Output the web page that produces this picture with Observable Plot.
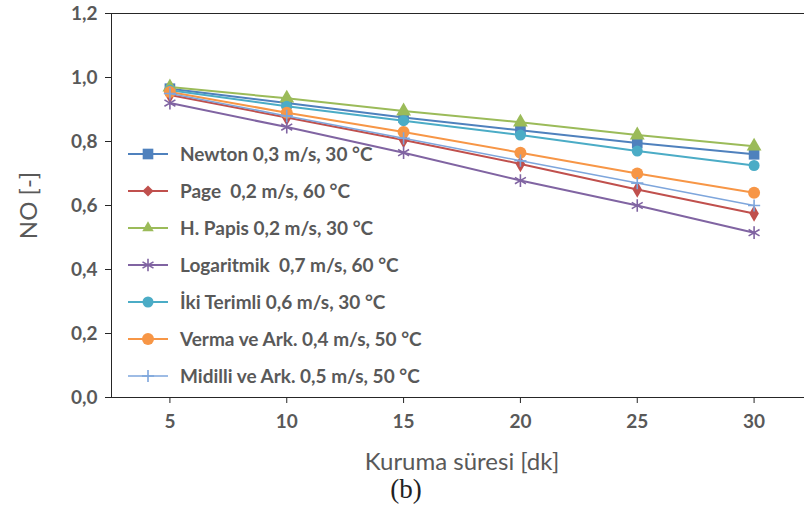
<!DOCTYPE html>
<html>
<head>
<meta charset="utf-8">
<script src="https://cdn.jsdelivr.net/npm/d3@7"></script>
<script src="https://cdn.jsdelivr.net/npm/@observablehq/plot@0.6"></script>
<style>
  body { margin: 0; background: #fff; overflow: hidden; }
  #wrap { position: relative; width: 804px; height: 518px; overflow: hidden; font-family: Lato, "Open Sans", sans-serif; }
  #legend { position: absolute; left: 126px; top: 135px; }
  .row { display: flex; align-items: center; height: 37px; }
  .row svg { display: block; margin-right: 10px; }
  .row span { white-space: pre; font-weight: bold; font-size: 19px; color: #595959; }
  #caption { position: absolute; left: 0; top: 474px; width: 812px; text-align: center;
             font-family: "Liberation Serif", "DejaVu Serif", serif; font-size: 27px; color: #222; }
</style>
</head>
<body>
<div id="wrap">
  <div id="chart"></div>
  <div id="legend"></div>
  <div id="caption">(b)</div>
</div>
<script>
// Drying time (min) and dimensionless moisture ratio for each model
const times = [5, 10, 15, 20, 25, 30];
const yTicks = [0, 0.2, 0.4, 0.6, 0.8, 1.0, 1.2];

const seriesNames = [
  "Newton 0,3 m/s, 30 °C",
  "Page  0,2 m/s, 60 °C",
  "H. Papis 0,2 m/s, 30 °C",
  "Logaritmik  0,7 m/s, 60 °C",
  "İki Terimli 0,6 m/s, 30 °C",
  "Verma ve Ark. 0,4 m/s, 50 °C",
  "Midilli ve Ark. 0,5 m/s, 50 °C"
];
const newton     = [0.965, 0.92, 0.875, 0.835, 0.795, 0.76];
const page       = [0.945, 0.875, 0.805, 0.73, 0.65, 0.575];
const hPapis     = [0.97, 0.935, 0.895, 0.86, 0.82, 0.785];
const logaritmik = [0.92, 0.845, 0.765, 0.678, 0.60, 0.515];
const ikiTerimli = [0.96, 0.91, 0.865, 0.82, 0.77, 0.725];
const verma      = [0.955, 0.89, 0.83, 0.765, 0.70, 0.64];
const midilli    = [0.95, 0.88, 0.81, 0.74, 0.67, 0.60];

const seriesValues = [newton, page, hPapis, logaritmik, ikiTerimli, verma, midilli];
const colors  = ["#4F81BD", "#C0504D", "#9BBB59", "#8064A2", "#4BACC6", "#F79646", "#7EA6DC"];
const symbols = ["square", "diamond", "triangle", "asterisk", "circle", "circle", "plus"];
const radii   = [6, 5, 5.5, 6, 5.5, 6, 4];
const lineWidths = [2, 2, 2, 2, 2, 2, 1.5];
const strokeSymbols = new Set(["asterisk", "plus"]);

const fmt = d => d.toFixed(1).replace(".", ",");

const marks = [
  Plot.ruleY([0], {stroke: "#262626"}),
  Plot.ruleY([1.2], {stroke: "#262626"}),
  Plot.ruleX([2.5], {stroke: "#262626"}),
  Plot.axisY({ticks: yTicks, tickSize: 6, tickPadding: 8, tickFormat: fmt, label: null,
              fontWeight: "bold", fontSize: 19, stroke: "#262626"}),
  Plot.axisY({ticks: [], label: "NO [-]", labelAnchor: "center", labelArrow: "none", labelOffset: 92,
              fontSize: 24, fill: "#595959"}),
  Plot.axisX({ticks: times, tickSize: 6, tickPadding: 11, label: null,
              fontWeight: "bold", fontSize: 19, stroke: "#262626"}),
  Plot.axisX({ticks: [], label: "Kuruma süresi [dk]", labelAnchor: "center", labelArrow: "none", labelOffset: 72,
              fontSize: 24, fill: "#595959"})
];

seriesNames.forEach((name, i) => {
  const rows = times.map((t, j) => ({t, v: seriesValues[i][j]}));
  marks.push(Plot.line(rows, {x: "t", y: "v", stroke: colors[i], strokeWidth: lineWidths[i]}));
  const isStroke = strokeSymbols.has(symbols[i]);
  marks.push(Plot.dot(rows, {
    x: "t", y: "v", symbol: () => symbols[i], r: radii[i],
    fill: isStroke ? "none" : colors[i],
    stroke: isStroke ? colors[i] : "none",
    strokeWidth: isStroke ? 1.6 : 0
  }));
});

const chart = Plot.plot({
  width: 804,
  height: 470,
  marginTop: 13,
  marginLeft: 111,
  marginRight: -8,
  marginBottom: 73,
  style: {fontFamily: "Lato, 'Open Sans', sans-serif", color: "#595959", background: "#fff", overflow: "visible"},
  x: {domain: [2.5, 32.5]},
  y: {domain: [0, 1.2]},
  symbol: {type: "identity"},
  marks
});
document.getElementById("chart").appendChild(chart);

// Legend drawn inside the plot area
const legend = d3.select("#legend");
const symbolTypes = {
  square: d3.symbolSquare, diamond: d3.symbolDiamond2, triangle: d3.symbolTriangle2,
  asterisk: d3.symbolAsterisk, circle: d3.symbolCircle, plus: d3.symbolPlus
};
seriesNames.forEach((name, i) => {
  const row = legend.append("div").attr("class", "row");
  const svg = row.append("svg").attr("width", 44).attr("height", 20);
  svg.append("line").attr("x1", 2).attr("x2", 42).attr("y1", 10).attr("y2", 10)
    .attr("stroke", colors[i]).attr("stroke-width", lineWidths[i]);
  const isStroke = strokeSymbols.has(symbols[i]);
  svg.append("path")
    .attr("transform", "translate(22,10)")
    .attr("d", d3.symbol(symbolTypes[symbols[i]], Math.PI * radii[i] * radii[i])())
    .attr("fill", isStroke ? "none" : colors[i])
    .attr("stroke", isStroke ? colors[i] : "none")
    .attr("stroke-width", 1.6);
  row.append("span").text(name);
});
</script>
</body>
</html>
